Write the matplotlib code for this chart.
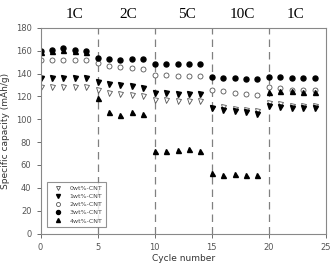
import numpy as np
import matplotlib.pyplot as plt

cycles = np.arange(25)
rates = ['1C', '2C', '5C', '10C', '1C']
rate_x = [3.0, 7.7, 12.8, 17.7, 22.3]
rate_bounds = [5, 10, 15, 20]

cnt0 = [128, 128, 128, 128, 128, 126, 123, 122, 121, 120, 117, 117, 116, 116, 116,
        110, 111, 109, 108, 107, 114, 113, 112, 112, 112]
cnt1 = [136, 136, 136, 136, 136, 133, 131, 130, 129, 127, 123, 123, 122, 122, 122,
        110, 108, 107, 106, 105, 112, 111, 110, 110, 110]
cnt2 = [152, 152, 152, 152, 152, 149, 147, 146, 145, 144, 139, 139, 138, 138, 138,
        126, 125, 123, 122, 121, 128, 127, 126, 126, 126]
cnt3 = [160, 161, 162, 161, 160, 154, 153, 152, 153, 153, 148, 148, 148, 148, 148,
        137, 136, 136, 135, 135, 137, 137, 136, 136, 136]
cnt4 = [159, 160, 161, 160, 159, 119, 106, 104, 106, 105, 72, 72, 73, 74, 72,
        53, 51, 52, 51, 51, 124, 125, 125, 124, 124]
labels = ['0wt%-CNT', '1wt%-CNT', '2wt%-CNT', '3wt%-CNT', '4wt%-CNT']

fig = plt.figure(figsize=(3.32, 2.63), dpi=100)
ax = fig.add_axes([0.122, 0.112, 0.86, 0.782])

for xb in rate_bounds:
    ax.axvline(xb, color='#808080', lw=0.9, ls=(0, (6, 4)), zorder=1)

ms = 3.6
ax.plot(cycles, cnt0, 'v', ms=ms, mfc='white', mec='#555555', mew=0.6, ls='none', label=labels[0])
ax.plot(cycles, cnt1, 'v', ms=ms, color='black', ls='none', label=labels[1])
ax.plot(cycles, cnt2, 'o', ms=ms, mfc='white', mec='#555555', mew=0.6, ls='none', label=labels[2])
ax.plot(cycles, cnt3, 'o', ms=ms, color='black', ls='none', label=labels[3])
ax.plot(cycles, cnt4, '^', ms=ms, color='black', ls='none', label=labels[4])

for t, xr in zip(rates, rate_x):
    ax.text(xr, 1.035, t, transform=ax.get_xaxis_transform(), ha='center', va='bottom',
            fontsize=11, family='Liberation Serif')

ax.set_xlim(0, 25)
ax.set_ylim(0, 180)
ax.set_xticks(np.arange(0, 26, 5))
ax.set_yticks(np.arange(0, 181, 20))
ax.tick_params(direction='out', length=3, width=0.6, colors='#555555', labelsize=6)
for s in ax.spines.values():
    s.set_color('#888888')
    s.set_linewidth(0.8)
ax.set_xlabel('Cycle number', fontsize=6.5, color='#333333', labelpad=2)
ax.set_ylabel('Specific capacity (mAh/g)', fontsize=6.5, color='#333333', labelpad=4)

leg = ax.legend(loc='lower left', bbox_to_anchor=(0.012, 0.015), fontsize=4.5, frameon=True,
                fancybox=False, edgecolor='#777777', markerscale=0.8, handlelength=2.2,
                labelspacing=0.45, borderpad=0.6)
leg.get_frame().set_linewidth(0.8)
for t in leg.get_texts():
    t.set_color('#444444')

fig.savefig('out.png', dpi=100)
